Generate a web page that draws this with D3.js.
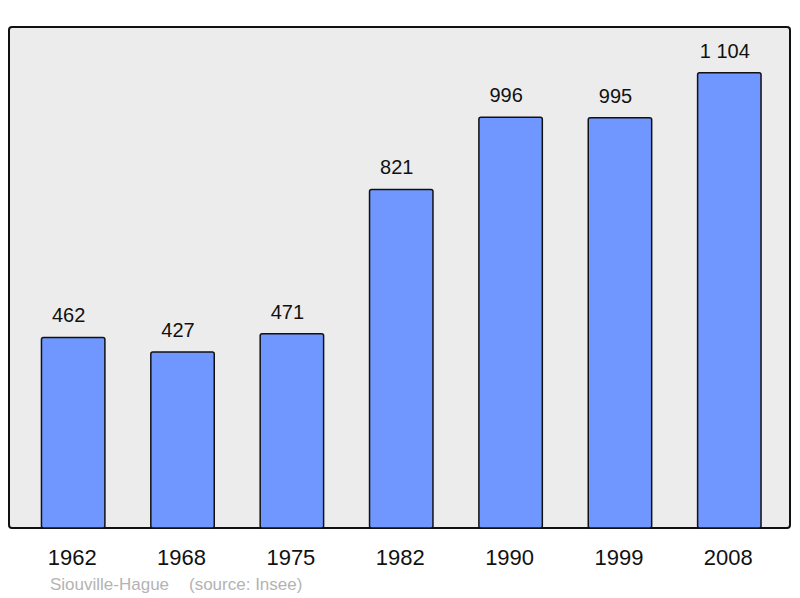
<!DOCTYPE html>
<html>
<head>
<meta charset="utf-8">
<script src="https://cdn.jsdelivr.net/npm/d3@7"></script>
<style>
  body { margin: 0; background: #fff; }
  text { font-family: "Liberation Sans", Arial, sans-serif; }
</style>
</head>
<body>
<div id="chart"></div>
<script>
// Population data
const years = ["1962", "1968", "1975", "1982", "1990", "1999", "2008"];
const population = [462, 427, 471, 821, 996, 995, 1104];
const valueLabels = ["462", "427", "471", "821", "996", "995", "1 104"];

const width = 800;
const height = 598;
const panel = { left: 9, top: 27, right: 790, bottom: 528 };

const svg = d3.select("#chart")
    .append("svg")
    .attr("width", width)
    .attr("height", height);

// Background panel
svg.append("rect")
    .attr("x", panel.left)
    .attr("y", panel.top)
    .attr("width", panel.right - panel.left)
    .attr("height", panel.bottom - panel.top)
    .attr("rx", 3)
    .attr("fill", "#ececec")
    .attr("stroke", "#111")
    .attr("stroke-width", 2);

// Scales
const x = d3.scaleBand()
    .domain(years)
    .range([18.5, 784])
    .paddingInner(0.42)
    .paddingOuter(0.21);

const y = d3.scaleLinear()
    .domain([0, 1215])
    .range([panel.bottom, panel.top]);

// Bars
svg.append("g")
    .selectAll("rect")
    .data(years)
    .join("rect")
    .attr("x", d => x(d))
    .attr("y", (d, i) => y(population[i]))
    .attr("width", x.bandwidth())
    .attr("height", (d, i) => y(0) - y(population[i]))
    .attr("rx", 2)
    .attr("fill", "#7097ff")
    .attr("stroke", "#111")
    .attr("stroke-width", 1.5);

// Value labels (sit a little left of the bar centre)
svg.append("g")
    .selectAll("text")
    .data(years)
    .join("text")
    .attr("x", d => x(d) + x.bandwidth() / 2 - 4.5)
    .attr("y", (d, i) => y(population[i]) - 15)
    .attr("text-anchor", "middle")
    .style("font-size", "20px")
    .style("fill", "#111")
    .text((d, i) => valueLabels[i]);

// Year labels
svg.append("g")
    .selectAll("text")
    .data(years)
    .join("text")
    .attr("x", d => x(d) + x.bandwidth() / 2 - 1)
    .attr("y", 565)
    .attr("text-anchor", "middle")
    .style("font-size", "22px")
    .style("fill", "#111")
    .text(d => d);

// Caption
svg.append("text")
    .attr("x", 50)
    .attr("y", 590)
    .style("font-size", "17px")
    .style("fill", "#b3b3b3")
    .text("Siouville-Hague");

svg.append("text")
    .attr("x", 189)
    .attr("y", 590)
    .style("font-size", "17px")
    .style("fill", "#b3b3b3")
    .text("(source: Insee)");
</script>
</body>
</html>
